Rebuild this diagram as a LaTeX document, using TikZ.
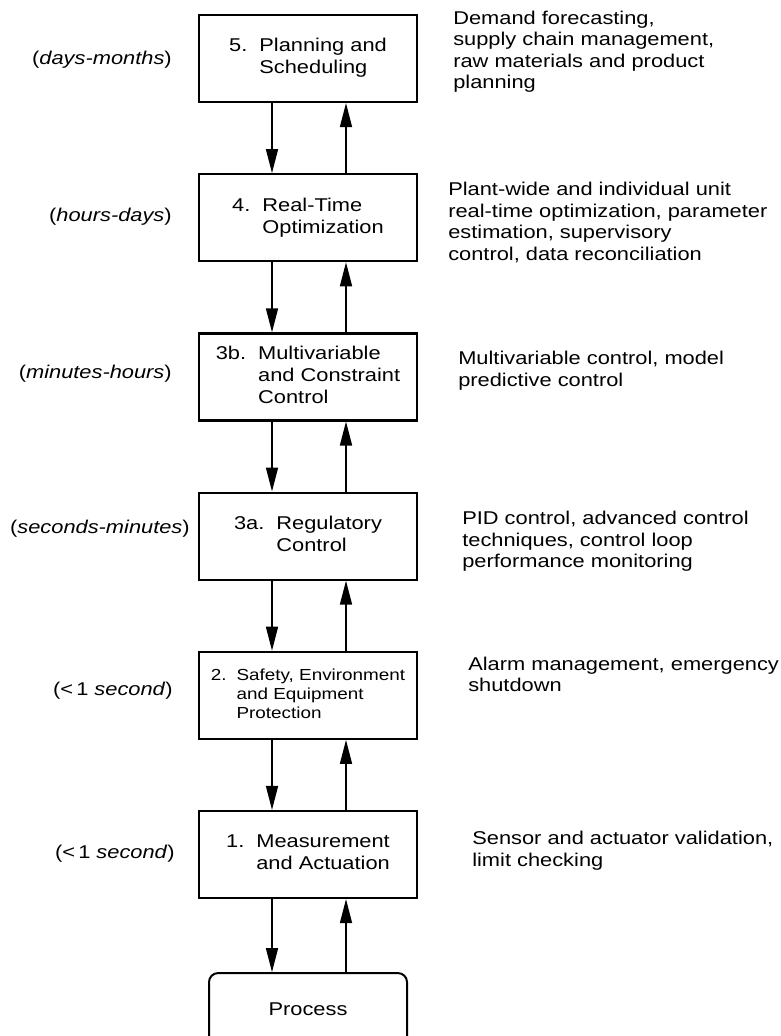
\documentclass[tikz,border=0pt]{standalone}
\usepackage{fontspec}
\setmainfont{Liberation Sans}[FakeStretch=1.18]
\usepackage{tikz}
\usetikzlibrary{arrows.meta, positioning}

\newcommand{\levelname}[2]{\begin{tabular}{@{}l@{\hspace{12pt}}l@{}}#1 & #2\end{tabular}}

\begin{document}
\begin{tikzpicture}[
    x=1pt, y=1pt,
    node distance=70pt and 26pt,
    level/.style={rectangle, draw, line width=2.2pt, minimum width=218pt, minimum height=87pt, inner sep=0pt, align=left, font=\fontsize{18.5}{22}\selectfont},
    plant/.style={rectangle, draw, line width=2pt, rounded corners=9pt, minimum width=198pt, minimum height=73pt, font=\fontsize{18.5}{22}\selectfont},
    timescale/.style={inner sep=0pt, font=\fontsize{18.5}{22}\selectfont},
    tasks/.style={inner sep=0pt, align=left, font=\fontsize{18.5}{21.5}\selectfont},
    arrow/.style={-{Triangle[length=24pt, width=12pt]}, line width=1.6pt}
]
\useasboundingbox (0,0) rectangle (781,-1036);

% Hierarchy of levels (top to bottom)
\node[level] (plan) at (308,-58.5) {\levelname{5.}{Planning and\\ & Scheduling}};
\node[level, below=of plan] (rto) {\levelname{4.}{Real-Time\\ & Optimization}};
\node[level, below=of rto] (mvc) {\levelname{3b.}{Multivariable\\ & and Constraint\\ & Control}};
\node[level, below=of mvc] (reg) {\levelname{3a.}{Regulatory\\ & Control}};
\node[level, below=of reg, font=\fontsize{16}{19}\selectfont] (safe) {\begin{tabular}{@{}l@{\hspace{10pt}}l@{}}2. & Safety, Environment\\ & and Equipment\\ & Protection\end{tabular}};
\node[level, below=of safe] (meas) {\levelname{1.}{Measurement\\ & and Actuation}};
\node[plant, below=73pt of meas] (proc) {Process};

% Time scales (left)
\node[timescale, left=26pt of plan, yshift=-1pt] (tplan) {(\textit{days-months})};
\node[timescale, left=26pt of rto, yshift=1pt] (trto) {(\textit{hours-days})};
\node[timescale, left=26pt of mvc, yshift=3pt] (tmvc) {(\textit{minutes-hours})};
\node[timescale, left=8pt of reg, yshift=7pt] (treg) {(\textit{seconds-minutes})};
\node[timescale, left=25pt of safe, yshift=5pt] (tsafe) {(<\,1 \textit{second})};
\node[timescale, left=23pt of meas, yshift=1pt] (tmeas) {(<\,1 \textit{second})};

% Activities (right)
\node[tasks, right=35pt of plan, yshift=7pt] (dplan) {Demand forecasting,\\supply chain management,\\raw materials and product\\planning};
\node[tasks, right=30pt of rto, yshift=-5pt] (drto) {Plant-wide and individual unit\\real-time optimization, parameter\\estimation, supervisory\\control, data reconciliation};
\node[tasks, right=40pt of mvc, yshift=6pt] (dmvc) {Multivariable control, model\\predictive control};
\node[tasks, right=44pt of reg, yshift=-5.5pt] (dreg) {PID control, advanced control\\techniques, control loop\\performance monitoring};
\node[tasks, right=50pt of safe, yshift=21pt] (dsafe) {Alarm management, emergency\\shutdown};
\node[tasks, right=54pt of meas, yshift=4pt] (dmeas) {Sensor and actuator validation,\\limit checking};

% Downward arrows (set points)
\draw[arrow] ([xshift=-36pt]plan.south) -- ([xshift=-36pt]rto.north);
\draw[arrow] ([xshift=-36pt]rto.south) -- ([xshift=-36pt]mvc.north);
\draw[arrow] ([xshift=-36pt]mvc.south) -- ([xshift=-36pt]reg.north);
\draw[arrow] ([xshift=-36pt]reg.south) -- ([xshift=-36pt]safe.north);
\draw[arrow] ([xshift=-36pt]safe.south) -- ([xshift=-36pt]meas.north);
\draw[arrow] ([xshift=-36pt]meas.south) -- ([xshift=-36pt]proc.north);

% Upward arrows (information)
\draw[arrow] ([xshift=38pt]rto.north) -- ([xshift=38pt]plan.south);
\draw[arrow] ([xshift=38pt]mvc.north) -- ([xshift=38pt]rto.south);
\draw[arrow] ([xshift=38pt]reg.north) -- ([xshift=38pt]mvc.south);
\draw[arrow] ([xshift=38pt]safe.north) -- ([xshift=38pt]reg.south);
\draw[arrow] ([xshift=38pt]meas.north) -- ([xshift=38pt]safe.south);
\draw[arrow] ([xshift=38pt]proc.north) -- ([xshift=38pt]meas.south);
\end{tikzpicture}
\end{document}
